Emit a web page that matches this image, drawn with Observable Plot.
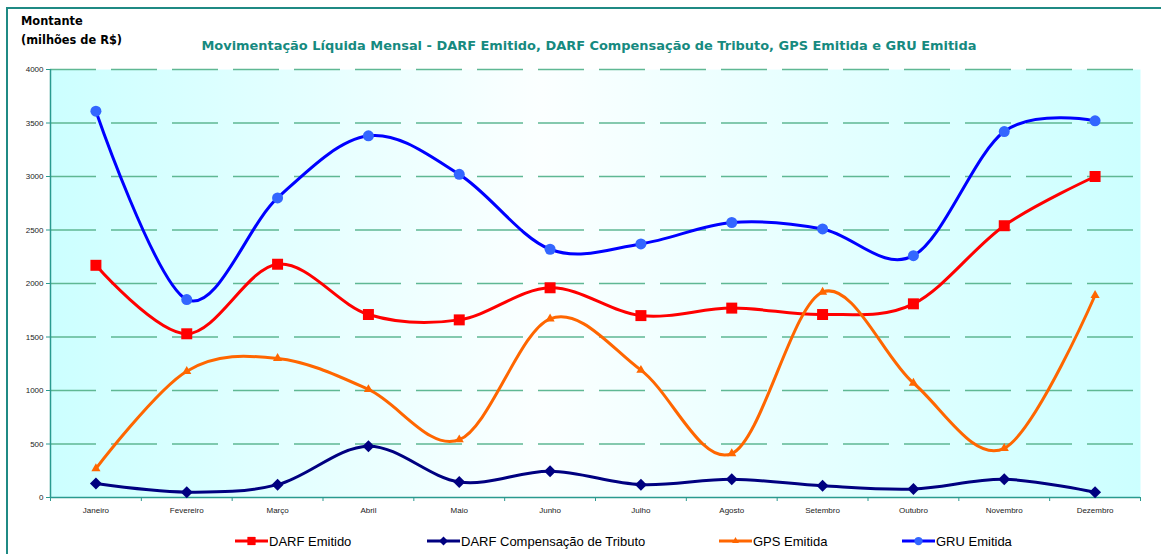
<!DOCTYPE html>
<html>
<head>
<meta charset="utf-8">
<script src="https://cdn.jsdelivr.net/npm/d3@7"></script>
<script src="https://cdn.jsdelivr.net/npm/@observablehq/plot@0.6"></script>
<style>
  body { margin: 0; background: #fff; overflow: hidden; }
  #wrap { position: relative; width: 1161px; height: 554px; overflow: hidden; background: #fff; }
  #frame { position: absolute; left: 6px; top: 7px; width: 2000px; height: 2000px;
           border-left: 2px solid #1f8a84; border-top: 2px solid #1f8a84; }
  #ylab { position: absolute; left: 21px; top: 12px; font-family: "DejaVu Sans", Verdana, sans-serif;
          font-weight: bold; font-size: 11.4px; line-height: 19px; color: #000; }
  #title { position: absolute; left: 0; width: 1178px; top: 38px; text-align: center;
           font-family: "DejaVu Sans", Verdana, sans-serif; font-weight: bold; font-size: 12.95px;
           color: #168a80; white-space: nowrap; }
  #chart { position: absolute; left: 0; top: 0; }
  .leg { position: absolute; top: 533px; display: flex; align-items: center;
         font-family: "Liberation Sans", Arial, sans-serif; font-size: 13px; color: #000; white-space: nowrap; }
  .leg svg { display: block; margin-right: 1px; }
</style>
</head>
<body>
<div id="wrap">
  <div id="frame"></div>
  <div id="ylab">Montante<br>(milhões de R$)</div>
  <div id="title">Movimentação Líquida Mensal - DARF Emitido, DARF Compensação de Tributo, GPS Emitida e GRU Emitida</div>
  <div id="chart"></div>
</div>
<script>
// ---- data ----
const months = ["Janeiro","Fevereiro","Março","Abril","Maio","Junho","Julho","Agosto","Setembro","Outubro","Novembro","Dezembro"];
const seriesNames = ["DARF Emitido","DARF Compensação de Tributo","GPS Emitida","GRU Emitida"];
const darfEmitido     = [2170, 1530, 2180, 1710, 1660, 1960, 1700, 1770, 1710, 1810, 2540, 3000];
const darfCompensacao = [ 130,   50,  120,  480,  145,  245,  120,  170,  110,   80,  170,   50];
const gpsEmitida      = [ 270, 1180, 1300, 1010,  540, 1670, 1190,  410, 1920, 1070,  460, 1890];
const gruEmitida      = [3610, 1850, 2800, 3380, 3020, 2320, 2370, 2570, 2510, 2260, 3420, 3520];
const yTicks = [0, 500, 1000, 1500, 2000, 2500, 3000, 3500, 4000];

// ---- styles ----
const styles = [
  {line: "#ff0000", marker: "#ff0000", symbol: "square",   r: 6.2},
  {line: "#000080", marker: "#000080", symbol: "diamond2", r: 5.4},
  {line: "#ff6600", marker: "#ff6600", symbol: "triangle", r: 3.4},
  {line: "#0000ff", marker: "#3366ff", symbol: "circle",   r: 5.5}
];
const valuesList = [darfEmitido, darfCompensacao, gpsEmitida, gruEmitida];

const W = 1161, H = 554, mL = 50, mR = 21, mT = 69, mB = 57;
const halfStep = (W - mL - mR) / months.length / 2;
const tickLen = 4 * 4000 / (H - mT - mB);
const axisColor = "#2a9a8f";

const marks = [
  Plot.frame({fill: "url(#bgGrad)", stroke: "none"}),
  Plot.gridY(yTicks.filter(v => v > 0), {stroke: "#5fb894", strokeOpacity: 1, strokeWidth: 1.4, strokeDasharray: "46,15"}),
  Plot.ruleY([0], {stroke: axisColor, strokeWidth: 1.5}),
  Plot.ruleX([months[0]], {x: d => d, dx: -halfStep, y1: 0, y2: 4000, stroke: axisColor, strokeWidth: 1.5}),
  Plot.axisY(yTicks, {tickSize: 4, tickPadding: 3, tickFormat: d => String(d), stroke: axisColor, color: "#222", fontSize: 8, label: null}),
  Plot.axisX({tickSize: 0, tickPadding: 10, fontSize: 8, color: "#222", label: null}),
  Plot.ruleX(months, {x: d => d, dx: -halfStep, y1: 0, y2: -tickLen, stroke: axisColor}),
  Plot.ruleX([months[months.length - 1]], {x: d => d, dx: halfStep, y1: 0, y2: -tickLen, stroke: axisColor})
];

valuesList.forEach((vals, i) => {
  const rows = months.map((m, j) => ({month: m, value: vals[j], series: seriesNames[i]}));
  const s = styles[i];
  marks.push(Plot.line(rows, {x: "month", y: "value", stroke: s.line, strokeWidth: 3, curve: "cardinal", tension: 0}));
  marks.push(Plot.dot(rows, {x: "month", y: "value", symbol: () => s.symbol, r: s.r, fill: s.marker, stroke: "none"}));
});

const chart = Plot.plot({
  width: W, height: H,
  marginLeft: mL, marginRight: mR, marginTop: mT, marginBottom: mB,
  style: {background: "transparent", fontFamily: "'Liberation Sans', Arial, sans-serif", fontSize: "8px", color: "#222", overflow: "visible"},
  x: {type: "point", domain: months, padding: 0.5, round: false},
  y: {domain: [0, 4000]},
  symbol: {type: "identity"},
  marks
});

// background gradient
const ns = "http://www.w3.org/2000/svg";
const defs = document.createElementNS(ns, "defs");
const grad = document.createElementNS(ns, "linearGradient");
grad.setAttribute("id", "bgGrad");
grad.setAttribute("x1", "0"); grad.setAttribute("x2", "1");
grad.setAttribute("y1", "0"); grad.setAttribute("y2", "0");
[["0", "#ccffff"], ["0.45", "#fbffff"], ["1", "#ccffff"]].forEach(([o, c]) => {
  const st = document.createElementNS(ns, "stop");
  st.setAttribute("offset", o); st.setAttribute("stop-color", c);
  grad.appendChild(st);
});
defs.appendChild(grad);
chart.insertBefore(defs, chart.firstChild);
document.getElementById("chart").appendChild(chart);

// legend
const legX = [235, 427, 719, 902];
const wrap = document.getElementById("wrap");
const symMap = {square: d3.symbolSquare, diamond2: d3.symbolDiamond2, triangle: d3.symbolTriangle, circle: d3.symbolCircle};
seriesNames.forEach((name, i) => {
  const s = styles[i];
  const div = document.createElement("div");
  div.className = "leg";
  div.style.left = legX[i] + "px";
  const svg = d3.create("svg").attr("width", 33).attr("height", 16);
  svg.append("line").attr("x1", 0).attr("x2", 33).attr("y1", 8).attr("y2", 8)
     .attr("stroke", s.line).attr("stroke-width", 3);
  svg.append("path").attr("transform", "translate(16.5,8)")
     .attr("d", d3.symbol(symMap[s.symbol], Math.PI * (s.r * 0.75) ** 2)())
     .attr("fill", s.marker);
  div.appendChild(svg.node());
  const t = document.createElement("span");
  t.textContent = name;
  div.appendChild(t);
  wrap.appendChild(div);
});
</script>
</body>
</html>
